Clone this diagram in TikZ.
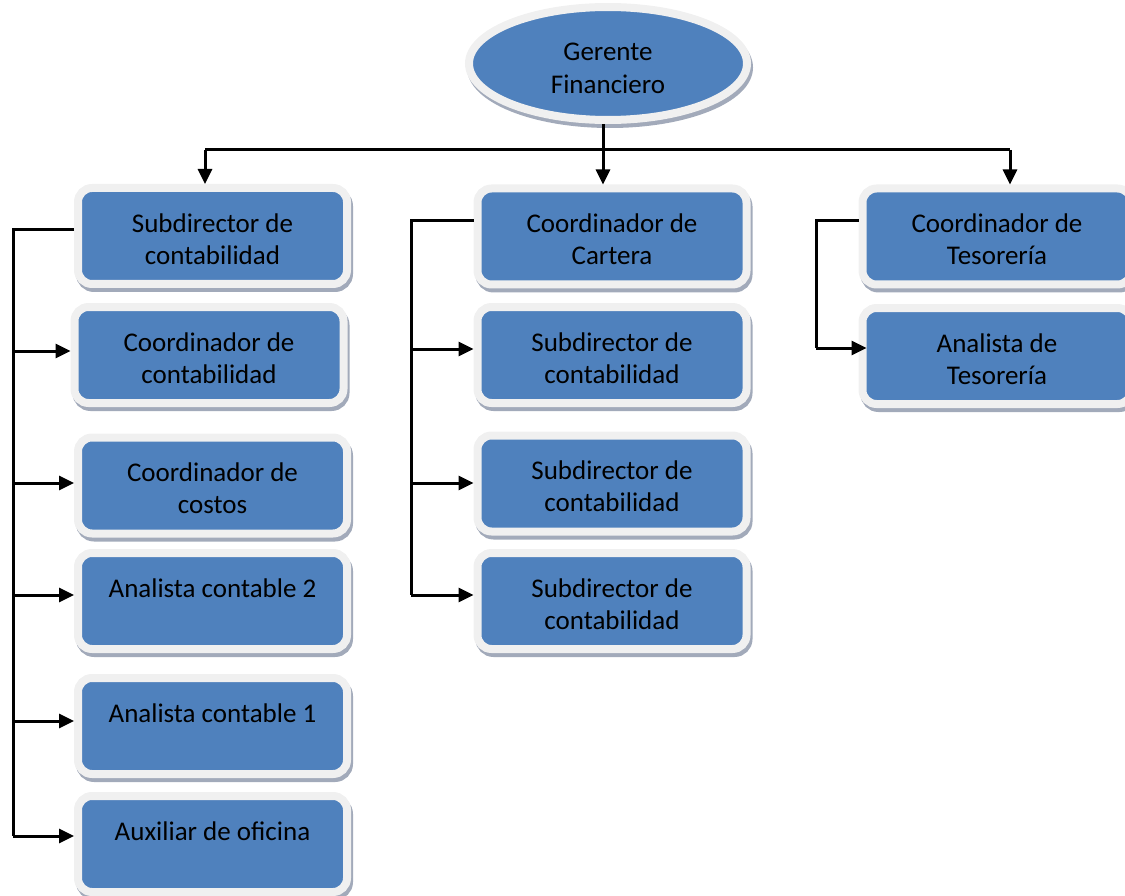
\documentclass[tikz,border=0pt]{standalone}
\usepackage{fontspec}
\setmainfont{Carlito}
\usetikzlibrary{arrows.meta,shapes.geometric}
\definecolor{blueF}{HTML}{4F81BD}
\definecolor{borderc}{HTML}{F0F0F0}
\definecolor{shadowc}{HTML}{A2AABA}
\newcommand\twolines[3]{\begin{tabular}{@{}c@{}}\rule{0pt}{#1}#2\\#3\mbox{}\end{tabular}}
\tikzset{
  orgbox/.style={rectangle, rounded corners=14pt, fill=blueF, draw=borderc, line width=8pt,
    minimum width=269pt, minimum height=96pt, inner sep=0pt,
    font=\fontsize{27}{32}\selectfont, text=black,
    preaction={fill=shadowc, draw=shadowc, transform canvas={shift={(2pt,-4pt)}}}},
  orgell/.style={ellipse, fill=blueF, draw=borderc, line width=8pt,
    minimum width=278pt, minimum height=104pt, inner sep=0pt,
    font=\fontsize{27}{33}\selectfont, text=black,
    preaction={fill=shadowc, draw=shadowc, transform canvas={shift={(2pt,-4pt)}}}},
  conn/.style={line width=3pt, draw=black, line join=miter},
  arr/.style={conn, -{Triangle[length=15pt,width=14pt]}}
}
\begin{document}
\begin{tikzpicture}[x=1pt,y=-1pt]
\useasboundingbox (0,0) rectangle (1125,896);
\clip (0,0) rectangle (1125,896);
% top
\node[orgell] (ger) at (608,63.5) {\twolines{37pt}{Gerente}{Financiero}};
% left column
\node[orgbox] (s1) at (212.5,236) {\twolines{34pt}{Subdirector de}{contabilidad}};
\node[orgbox] (s2) at (209,355) {\twolines{34pt}{Coordinador de}{contabilidad}};
\node[orgbox] (s3) at (212.5,485.5) {\twolines{34pt}{Coordinador de}{costos}};
\node[orgbox] (s4) at (212.5,601) {\twolines{34pt}{Analista contable 2}{}};
\node[orgbox] (s5) at (212.5,726) {\twolines{34pt}{Analista contable 1}{}};
\node[orgbox] (s6) at (212.5,844) {\twolines{34pt}{Auxiliar de oficina}{}};
% middle column
\node[orgbox] (c1) at (612,236.5) {\twolines{34pt}{Coordinador de}{Cartera}};
\node[orgbox] (c2) at (612,355) {\twolines{34pt}{Subdirector de}{contabilidad}};
\node[orgbox] (c3) at (612,483.5) {\twolines{34pt}{Subdirector de}{contabilidad}};
\node[orgbox] (c4) at (612,601) {\twolines{34pt}{Subdirector de}{contabilidad}};
% right column
\node[orgbox] (t1) at (997,236.5) {\twolines{34pt}{Coordinador de}{Tesorería}};
\node[orgbox] (t2) at (997,356) {\twolines{34pt}{Analista de}{Tesorería}};
% top bus
\coordinate (busL) at (205,150);
\coordinate (busM) at (603,150);
\coordinate (busR) at (1010,150);
\draw[conn] (busL) -- (busR);
\draw[arr] (busM |- ger.south) -- (busM |- c1.north);
\draw[arr] (busL) -- (busL |- s1.north);
\draw[arr] (busR) -- (busR |- t1.north);
% left column connectors
\coordinate (lvT) at (13,230);
\coordinate (lvB) at (13,836);
\draw[conn] (lvT -| s1.west) -- (lvT) -- (lvB);
\draw[arr] (lvT |- 0,351) -- (s2.west |- 0,351);
\draw[arr] (lvT |- 0,483) -- (s3.west |- 0,483);
\draw[arr] (lvT |- 0,595) -- (s4.west |- 0,595);
\draw[arr] (lvT |- 0,721) -- (s5.west |- 0,721);
\draw[arr] (lvB) -- (s6.west |- lvB);
% middle column connectors
\coordinate (mvT) at (411,221);
\coordinate (mvB) at (411,595);
\draw[conn] (mvT -| c1.west) -- (mvT) -- (mvB);
\draw[arr] (mvT |- 0,349) -- (c2.west |- 0,349);
\draw[arr] (mvT |- 0,483) -- (c3.west |- 0,483);
\draw[arr] (mvB) -- (c4.west |- mvB);
% right column connectors
\coordinate (rvT) at (816,221);
\coordinate (rvB) at (816,348);
\draw[conn] (rvT -| t1.west) -- (rvT) -- (rvB);
\draw[arr] (rvB) -- ([xshift=8pt]t2.west |- rvB);
\end{tikzpicture}
\end{document}
